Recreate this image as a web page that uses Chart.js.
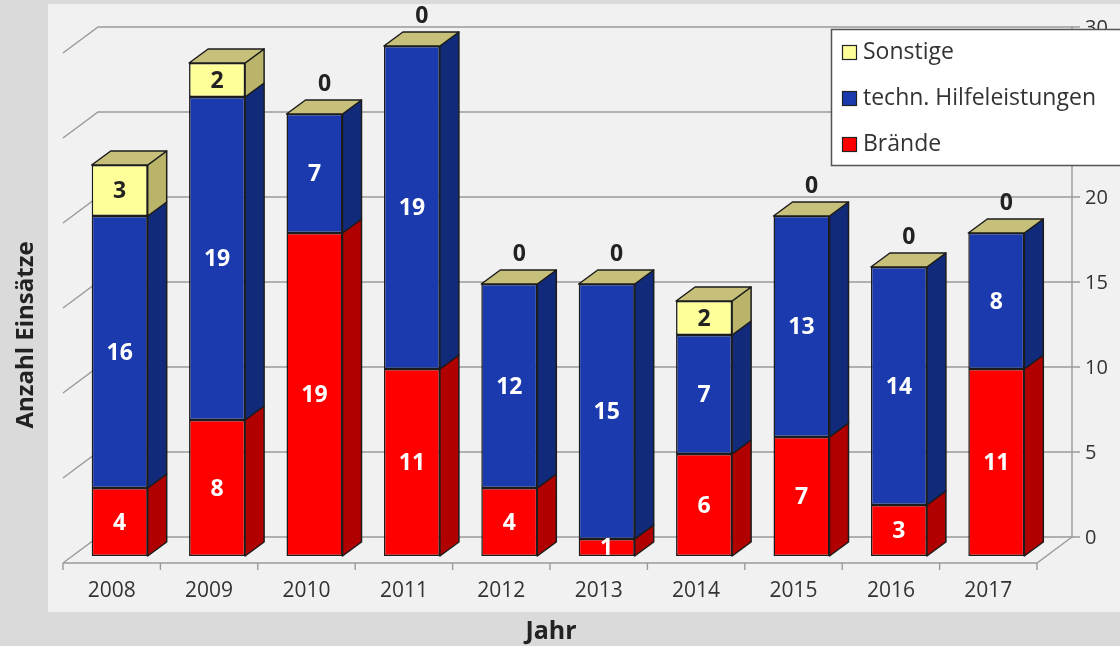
<!DOCTYPE html>
<html>
<head>
<meta charset="utf-8">
<script src="https://cdn.jsdelivr.net/npm/chart.js@4.4.0/dist/chart.umd.min.js"></script>
<style>
  html, body { margin: 0; padding: 0; background: #dadada; }
  canvas { display: block; }
</style>
</head>
<body>
<canvas id="chart" width="1120" height="646"></canvas>
<script>
// Einsätze pro Jahr
const years = ['2008', '2009', '2010', '2011', '2012', '2013', '2014', '2015', '2016', '2017'];
const braende = [4, 8, 19, 11, 4, 1, 6, 7, 3, 11];
const hilfeleistungen = [16, 19, 7, 19, 12, 15, 7, 13, 14, 8];
const sonstige = [3, 2, 0, 0, 0, 0, 2, 0, 0, 0];
const yTicks = [0, 5, 10, 15, 20, 25, 30];

const FONT = '"Open Sans", "Noto Sans", sans-serif';
const BAR_DEPTH = { dx: 19, dy: -14 };     // side/top faces of the columns
const FLOOR_SHIFT = { dx: -8, dy: 7 };     // front edge of the floor relative to the columns
const WALL_DEPTH = { dx: 35, dy: -26 };    // floor front edge -> back wall

const faceColors = {
  braende: { front: '#ff0000', side: '#b00000' },
  hilfe: { front: '#1a3aae', side: '#112a7a' },
  sonstige: { front: '#ffff99', side: '#b9b46a', top: '#c6c07a' }
};

function poly(ctx, pts, fill, stroke) {
  ctx.beginPath();
  ctx.moveTo(pts[0][0], pts[0][1]);
  for (let i = 1; i < pts.length; i++) ctx.lineTo(pts[i][0], pts[i][1]);
  ctx.closePath();
  ctx.fillStyle = fill;
  ctx.fill();
  ctx.lineWidth = 1.5;
  ctx.lineJoin = 'round';
  ctx.strokeStyle = stroke;
  ctx.stroke();
}

// Panel background, back wall grid, floor and the value axis on the right
const scenePlugin = {
  id: 'scene',
  beforeDraw(chart) {
    const { ctx, width, height } = chart;
    ctx.save();
    ctx.fillStyle = '#dadada';
    ctx.fillRect(0, 0, width, height);
    ctx.fillStyle = '#f1f1f1';
    ctx.fillRect(48, 4, width - 48, 608);
    ctx.restore();
  },
  beforeDatasetsDraw(chart) {
    const { ctx, chartArea: a, scales: { x, y } } = chart;
    const fl = a.left + FLOOR_SHIFT.dx, fr = a.right + FLOOR_SHIFT.dx;
    const bl = fl + WALL_DEPTH.dx, br = fr + WALL_DEPTH.dx;
    const backY = v => y.getPixelForValue(v) + FLOOR_SHIFT.dy + WALL_DEPTH.dy;
    const frontY = v => y.getPixelForValue(v) + FLOOR_SHIFT.dy;
    ctx.save();
    ctx.strokeStyle = '#9a9a9a';
    ctx.lineWidth = 1.4;
    yTicks.forEach(v => {
      ctx.beginPath();
      ctx.moveTo(fl, frontY(v));
      ctx.lineTo(bl, backY(v));
      ctx.lineTo(br, backY(v));
      ctx.lineTo(br + 8, backY(v));
      ctx.stroke();
    });
    // right axis and floor outline
    ctx.beginPath();
    ctx.moveTo(br, backY(yTicks[yTicks.length - 1]));
    ctx.lineTo(br, backY(0));
    ctx.lineTo(fr, frontY(0));
    ctx.lineTo(fl, frontY(0));
    ctx.stroke();
    // category separators on the floor edge
    const step = (fr - fl) / years.length;
    for (let i = 0; i <= years.length; i++) {
      const px = fl + i * step;
      ctx.beginPath();
      ctx.moveTo(px, frontY(0));
      ctx.lineTo(px, frontY(0) + 7);
      ctx.stroke();
    }
    // category labels
    ctx.fillStyle = '#333333';
    ctx.font = '21px ' + FONT;
    ctx.textAlign = 'center';
    ctx.textBaseline = 'middle';
    years.forEach((lab, i) => {
      ctx.fillText(lab, x.getPixelForValue(i) + FLOOR_SHIFT.dx, frontY(0) + 28);
    });
    // value labels on the right
    ctx.textAlign = 'left';
    ctx.font = '20px ' + FONT;
    yTicks.forEach(v => ctx.fillText(String(v), br + 13, backY(v) + 1));
    // axis titles
    ctx.font = 'bold 25px ' + FONT;
    ctx.fillStyle = '#222222';
    ctx.textAlign = 'center';
    ctx.fillText('Jahr', 551, 632);
    ctx.save();
    ctx.translate(26, 335);
    ctx.rotate(-Math.PI / 2);
    ctx.font = 'bold 24px ' + FONT;
    ctx.fillText('Anzahl Einsätze', 0, 0);
    ctx.restore();
    ctx.restore();
  },
  afterDatasetsDraw(chart) {
    const { ctx } = chart;
    const keys = ['braende', 'hilfe', 'sonstige'];
    const outline = '#1c1c1c';
    ctx.save();
    years.forEach((_, i) => {
      let top = null, left = 0, right = 0;
      keys.forEach((k, d) => {
        const el = chart.getDatasetMeta(d).data[i];
        const half = el.width / 2;
        left = el.x - half; right = el.x + half;
        top = el.y;
        if (Math.abs(el.base - el.y) < 0.5) return;
        poly(ctx, [
          [right, el.y],
          [right + BAR_DEPTH.dx, el.y + BAR_DEPTH.dy],
          [right + BAR_DEPTH.dx, el.base + BAR_DEPTH.dy],
          [right, el.base]
        ], faceColors[k].side, outline);
      });
      poly(ctx, [
        [left, top],
        [left + BAR_DEPTH.dx, top + BAR_DEPTH.dy],
        [right + BAR_DEPTH.dx, top + BAR_DEPTH.dy],
        [right, top]
      ], faceColors.sonstige.top, outline);
    });
    // value labels
    ctx.font = 'bold 23px ' + FONT;
    ctx.textAlign = 'center';
    ctx.textBaseline = 'middle';
    chart.data.datasets.forEach((ds, d) => {
      const meta = chart.getDatasetMeta(d);
      ds.data.forEach((v, i) => {
        const el = meta.data[i];
        if (v > 0) {
          ctx.fillStyle = keys[d] === 'sonstige' ? '#222222' : '#ffffff';
          ctx.fillText(String(v), el.x, (el.y + el.base) / 2 + 1);
        } else if (keys[d] === 'sonstige') {
          ctx.fillStyle = '#222222';
          ctx.fillText(String(v), el.x + 10, el.y - 30);
        }
      });
    });
    ctx.restore();
  },
  afterDraw(chart) {
    // legend box, last entry first
    const { ctx } = chart;
    ctx.save();
    ctx.fillStyle = '#ffffff';
    ctx.fillRect(831, 29, 300, 137);
    ctx.strokeStyle = '#555555';
    ctx.lineWidth = 1.5;
    ctx.strokeRect(831.5, 29.5, 300, 136);
    const order = [2, 1, 0];
    ctx.font = '23px ' + FONT;
    ctx.textBaseline = 'middle';
    ctx.textAlign = 'left';
    order.forEach((d, r) => {
      const ds = chart.data.datasets[d];
      const cy = 52 + r * 46;
      ctx.fillStyle = ds.backgroundColor;
      ctx.fillRect(842, cy - 7, 15, 15);
      ctx.strokeStyle = '#222222';
      ctx.lineWidth = 1.2;
      ctx.strokeRect(842.5, cy - 6.5, 14, 14);
      ctx.fillStyle = '#333333';
      ctx.fillText(ds.label, 863, cy);
    });
    ctx.restore();
  }
};

new Chart(document.getElementById('chart'), {
  type: 'bar',
  data: {
    labels: years,
    datasets: [
      { label: 'Brände', data: braende, backgroundColor: faceColors.braende.front },
      { label: 'techn. Hilfeleistungen', data: hilfeleistungen, backgroundColor: faceColors.hilfe.front },
      { label: 'Sonstige', data: sonstige, backgroundColor: faceColors.sonstige.front }
    ]
  },
  options: {
    responsive: false,
    animation: false,
    devicePixelRatio: 1,
    layout: { padding: { left: 71, right: 75, top: 46, bottom: 90 } },
    datasets: {
      bar: {
        barPercentage: 1,
        categoryPercentage: 0.575,
        borderWidth: 1.5,
        borderColor: '#1c1c1c',
        borderSkipped: false
      }
    },
    scales: {
      x: { stacked: true, display: false },
      y: { stacked: true, display: false, min: 0, max: 30 }
    },
    plugins: {
      legend: { display: false },
      tooltip: { enabled: false }
    }
  },
  plugins: [scenePlugin]
});
</script>
</body>
</html>
